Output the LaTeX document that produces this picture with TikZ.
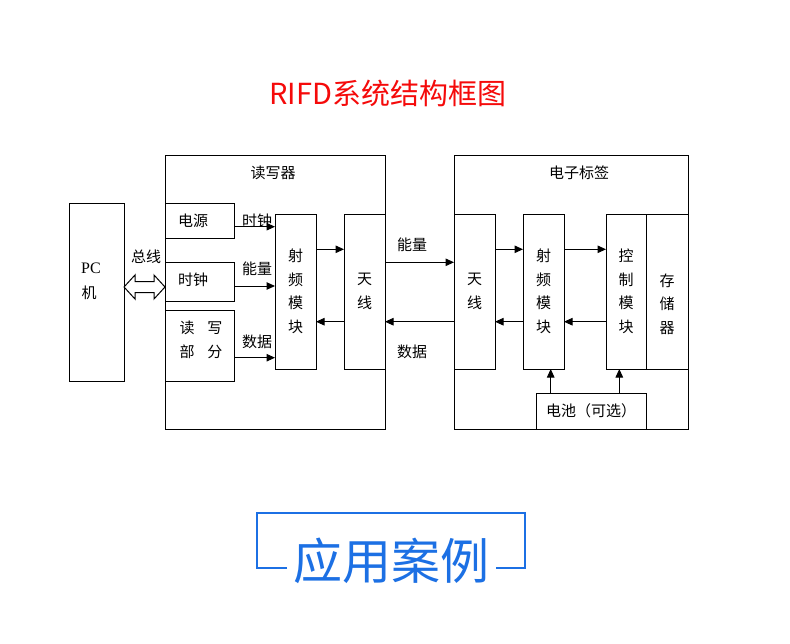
\documentclass[tikz,border=0pt]{standalone}
\usepackage{fontspec}
\setmainfont{Liberation Serif}
\newfontfamily\cjk{Noto Sans CJK SC}
\usetikzlibrary{arrows.meta,calc}
\definecolor{titlered}{RGB}{245,10,10}
\definecolor{caseblue}{RGB}{28,112,228}
\begin{document}
\begin{tikzpicture}[x=1pt,y=-1pt,
  box/.style={draw, line width=1pt, inner sep=0pt, outer sep=0pt, anchor=north west,
    align=center, font=\cjk\fontsize{15}{23.5}\selectfont},
  lbl/.style={inner sep=0pt, font=\cjk\fontsize{15}{18}\selectfont},
  arr/.style={line width=1pt, -{Triangle[length=8.5pt,width=7.5pt]}}]
\fill[white] (0,0) rectangle (790,643);
\useasboundingbox (0,0) rectangle (790,643);

% title
\node[inner sep=0pt, text=titlered, font=\cjk\fontsize{29}{32}\selectfont] (title) at (388,93) {RIFD系统结构框图};

% row / column helper coordinates
\coordinate (yA) at (0,226.7);
\coordinate (yB) at (0,286);
\coordinate (yC) at (0,357.7);
\coordinate (yD) at (0,249.3);
\coordinate (yE) at (0,321.7);
\coordinate (yF) at (0,262.3);
\coordinate (yG) at (0,287);
\coordinate (xb1) at (550.7,0);
\coordinate (xb2) at (619.3,0);

% PC
\node[box, minimum width=55, minimum height=178] (pc) at (69,203) {};
\node[inner sep=0pt, font=\fontsize{16}{18}\selectfont] (pct) at (91,268) {PC};
\node[lbl] (pcj) at (89,293) {机};

% reader
\node[box, minimum width=220, minimum height=274] (reader) at (165,155) {};
\node[lbl] (readert) at (273,173) {读写器};
\node[box, minimum width=69, minimum height=35] (psu) at (165,203) {};
\node[lbl, anchor=west] (psut) at (178,221) {电源};
\node[box, minimum width=69, minimum height=39] (clk) at (165,262) {};
\node[lbl, anchor=west] (clkt) at (178,280) {时钟};
\node[box, minimum width=69, minimum height=71] (rw) at (165,310) {};
\node[lbl, align=center, font=\cjk\fontsize{15}{23.5}\selectfont] (rwt) at (201,340) {读\hspace{13pt}写\\部\hspace{13pt}分};
\node[box, minimum width=41, minimum height=155] (rrf) at (275,214) {射\\频\\模\\块};
\node[box, minimum width=41, minimum height=155] (rant) at (344,214) {天\\线};

% tag
\node[box, minimum width=234, minimum height=274] (tag) at (454,155) {};
\node[lbl] (tagt) at (579,173) {电子标签};
\node[box, minimum width=41, minimum height=155] (tant) at (454,214) {天\\线};
\node[box, minimum width=41, minimum height=155] (trf) at (523,214) {射\\频\\模\\块};
\node[box, minimum width=40, minimum height=155] (ctrl) at (606,214) {控\\制\\模\\块};
\node[box, minimum width=42, minimum height=155] (mem) at (646,214) {};
\node[lbl, align=center, font=\cjk\fontsize{15}{23.5}\selectfont] (memt) at (667,304) {存\\储\\器};
\node[box, minimum width=110, minimum height=36] (bat) at (536,393) {电池（可选）};

% bus double arrow
\draw[line width=1pt, fill=white]
  (pc.east |- yG) -- ($(pc.east |- yG)+(11,-12)$) -- ($(pc.east |- yG)+(11,-5.5)$)
  -- ($(reader.west |- yG)+(-11,-5.5)$) -- ($(reader.west |- yG)+(-11,-12)$)
  -- (reader.west |- yG) -- ($(reader.west |- yG)+(-11,12)$) -- ($(reader.west |- yG)+(-11,5.5)$)
  -- ($(pc.east |- yG)+(11,5.5)$) -- ($(pc.east |- yG)+(11,12)$) -- cycle;
\node[lbl] (bus) at (146,256.7) {总线};

% reader arrows
\draw[arr] (psu.east |- yA) -- (rrf.west |- yA);
\draw[arr] (clk.east |- yB) -- (rrf.west |- yB);
\draw[arr] (rw.east |- yC) -- (rrf.west |- yC);
\node[lbl] (l1) at (257,220.7) {时钟};
\node[lbl] (l2) at (257,268.3) {能量};
\node[lbl] (l3) at (257,341.7) {数据};
\draw[arr] (rrf.east |- yD) -- (rant.west |- yD);
\draw[arr] (rant.west |- yE) -- (rrf.east |- yE);

% air link
\draw[arr] (rant.east |- yF) -- (tant.west |- yF);
\draw[arr] (tant.west |- yE) -- (rant.east |- yE);
\node[lbl] (l4) at (412,245) {能量};
\node[lbl] (l5) at (412,351.7) {数据};

% tag arrows
\draw[arr] (tant.east |- yD) -- (trf.west |- yD);
\draw[arr] (trf.east |- yD) -- (ctrl.west |- yD);
\draw[arr] (ctrl.west |- yE) -- (trf.east |- yE);
\draw[arr] (trf.west |- yE) -- (tant.east |- yE);
\draw[arr] (bat.north -| xb1) -- (trf.south -| xb1);
\draw[arr] (bat.north -| xb2) -- (ctrl.south -| xb2);

% bottom banner
\node[inner sep=0pt, text=caseblue, font=\cjk\fontsize{49}{52}\selectfont] (case) at (391,561) {应用案例};
\draw[caseblue, line width=1.6pt] (287,568) -- (257,568) -- (257,513) -- (525,513) -- (525,568) -- (496,568);
\end{tikzpicture}
\end{document}
